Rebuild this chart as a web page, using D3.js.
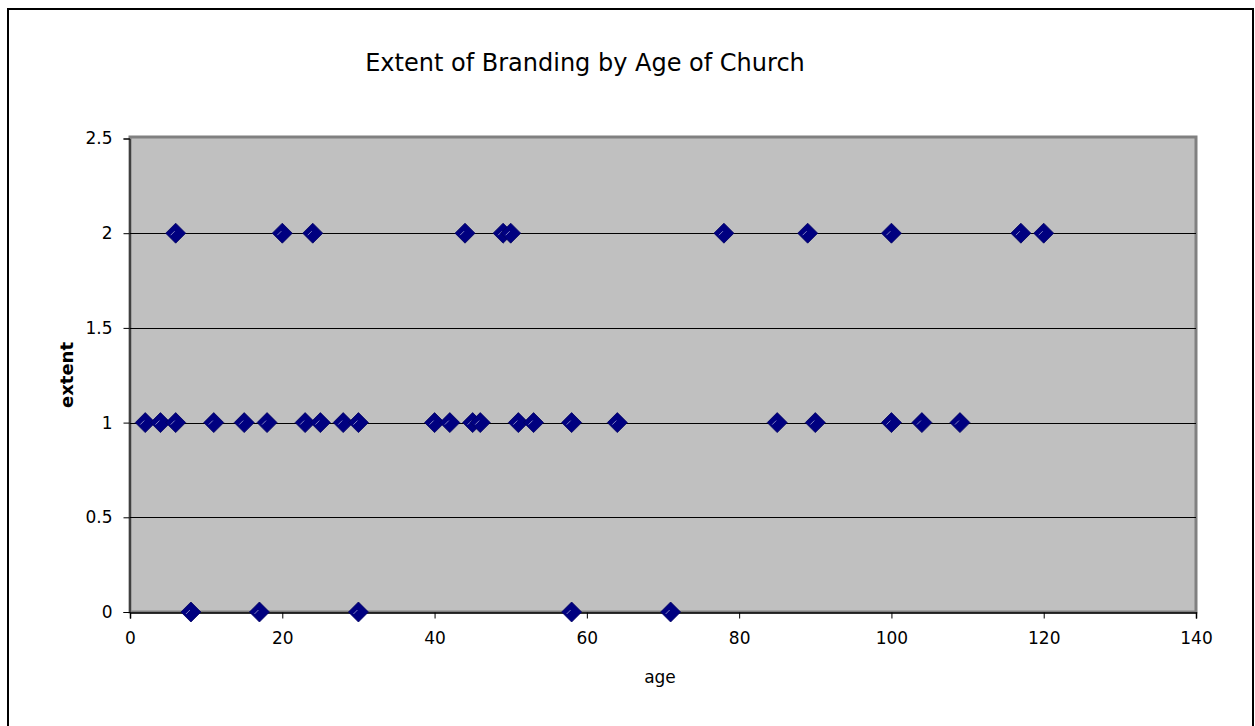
<!DOCTYPE html>
<html>
<head>
<meta charset="utf-8">
<script src="https://cdn.jsdelivr.net/npm/d3@7/dist/d3.min.js"></script>
<style>
  html, body { margin: 0; padding: 0; background: #ffffff; }
  svg { display: block; }
  text { font-family: "DejaVu Sans", Verdana, sans-serif; fill: #000; }
</style>
</head>
<body>
<svg id="chart" width="1255" height="726"></svg>
<script>
// Church age (years) and extent of branding (0, 1 or 2)
const ages = [
  2, 4, 6, 11, 15, 18, 23, 25, 28, 30,
  40, 42, 45, 46, 51, 53, 58, 64, 85, 90, 100, 104, 109,
  8, 17, 30, 58, 71,
  6, 20, 24, 44, 49, 50, 78, 89, 100, 117, 120
];
const extents = [
  1, 1, 1, 1, 1, 1, 1, 1, 1, 1,
  1, 1, 1, 1, 1, 1, 1, 1, 1, 1, 1, 1, 1,
  0, 0, 0, 0, 0,
  2, 2, 2, 2, 2, 2, 2, 2, 2, 2, 2
];
const xTicks = [0, 20, 40, 60, 80, 100, 120, 140];
const yTicks = [0, 0.5, 1, 1.5, 2, 2.5];

const titleText = "Extent of Branding by Age of Church";
const xLabel = "age";
const yLabel = "extent";

const svg = d3.select("#chart");
const FONT = '"DejaVu Sans", Verdana, sans-serif';

// Outer chart frame
svg.append("rect")
  .attr("x", 8).attr("y", 9)
  .attr("width", 1245).attr("height", 740)
  .attr("fill", "#fff")
  .attr("stroke", "#000").attr("stroke-width", 2);

const plot = { left: 130, top: 137, right: 1196, bottom: 612 };

const x = d3.scaleLinear().domain([0, 140]).range([plot.left, plot.right]);
const y = d3.scaleLinear().domain([0, 2.5]).range([plot.bottom, plot.top + 1.5]);

// Plot area background
svg.append("rect")
  .attr("x", plot.left).attr("y", plot.top)
  .attr("width", plot.right - plot.left).attr("height", plot.bottom - plot.top)
  .attr("fill", "#c0c0c0")
  .attr("stroke", "#808080").attr("stroke-width", 3);

// Horizontal gridlines
svg.append("g")
  .selectAll("line")
  .data(yTicks.filter(d => d > 0 && d < 2.5))
  .join("line")
  .attr("x1", plot.left).attr("x2", plot.right)
  .attr("y1", d => Math.round(y(d)) + 0.5).attr("y2", d => Math.round(y(d)) + 0.5)
  .attr("stroke", "#000").attr("stroke-width", 1);

// Y axis
const yAxis = d3.axisLeft(y)
  .tickValues(yTicks)
  .tickFormat(d3.format("~g"))
  .tickSize(6)
  .tickPadding(11);
const gy = svg.append("g")
  .attr("transform", `translate(${plot.left - 0.5},0)`)
  .call(yAxis);
gy.select(".domain").attr("stroke", "#000").attr("stroke-width", 1);
gy.selectAll(".tick line").attr("stroke", "#000");
gy.selectAll("text")
  .style("font-family", FONT)
  .style("font-size", "17px");

// X axis
const xAxis = d3.axisBottom(x)
  .tickValues(xTicks)
  .tickFormat(d3.format("d"))
  .tickSize(6)
  .tickPadding(13);
const gx = svg.append("g")
  .attr("transform", `translate(0,${plot.bottom + 0.5})`)
  .call(xAxis);
gx.select(".domain").attr("stroke", "#000").attr("stroke-width", 1.5);
gx.selectAll(".tick line").attr("stroke", "#000");
gx.selectAll("text")
  .style("font-family", FONT)
  .style("font-size", "17px");

// Data markers: navy diamonds
const data = ages.map((a, i) => ({ age: a, extent: extents[i] }));
const r = 10;
const diamond = `M0,${-r} L${r},0 L0,${r} L${-r},0 Z`;
const marks = svg.append("g")
  .selectAll("g")
  .data(data)
  .join("g")
  .attr("transform", d => `translate(${x(d.age)},${y(d.extent)})`);
marks.append("path")
  .attr("d", diamond)
  .attr("fill", "#000080")
  .attr("stroke", "#000060").attr("stroke-width", 0.8);
marks.append("line")
  .attr("x1", -5).attr("y1", 2).attr("x2", -1).attr("y2", -2)
  .attr("stroke", "#8c8cc8").attr("stroke-width", 0.9);

// Title
svg.append("text")
  .attr("x", 585).attr("y", 71)
  .attr("text-anchor", "middle")
  .style("font-size", "24px")
  .text(titleText);

// Axis titles
svg.append("text")
  .attr("x", 660).attr("y", 683)
  .attr("text-anchor", "middle")
  .style("font-size", "17px")
  .text(xLabel);

svg.append("text")
  .attr("transform", "translate(73,375) rotate(-90)")
  .attr("text-anchor", "middle")
  .style("font-size", "18px")
  .style("font-weight", "bold")
  .text(yLabel);
</script>
</body>
</html>
